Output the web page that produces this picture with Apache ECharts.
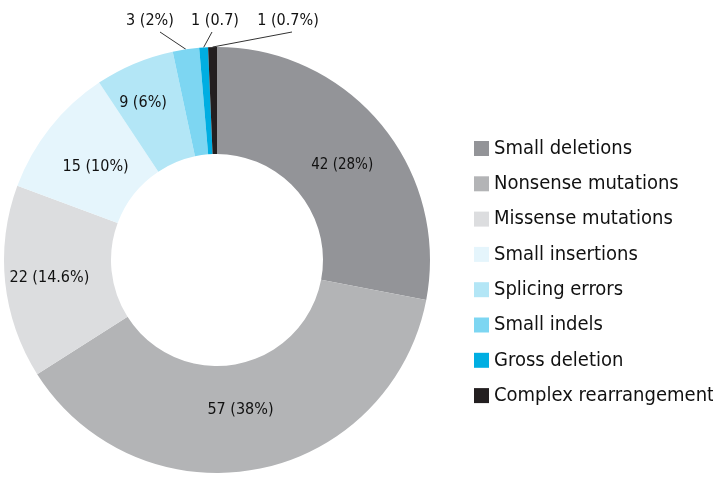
<!DOCTYPE html>
<html lang="en">
<head>
  <meta charset="UTF-8">
  <title>Mutation types</title>
  <script src="https://cdn.jsdelivr.net/npm/echarts@6/dist/echarts.min.js"></script>
  <style>
    html, body { margin: 0; padding: 0; background: #fff; }
    #chart { width: 713px; height: 481px; }
  </style>
</head>
<body>
<div id="chart"></div>
<script>
  // data
  var categories = ['Small deletions', 'Nonsense mutations', 'Missense mutations', 'Small insertions',
    'Splicing errors', 'Small indels', 'Gross deletion', 'Complex rearrangement'];
  var counts = [42, 57, 22, 15, 9, 3, 1, 1];
  var labelTexts = ['42 (28%)', '57 (38%)', '22 (14.6%)', '15 (10%)', '9 (6%)', '3 (2%)', '1 (0.7)', '1 (0.7%)'];
  var colors = ['#939498', '#b3b4b6', '#dcdddf', '#e5f5fc', '#b3e6f6', '#7dd6f2', '#00aee2', '#231f20'];

  var font = "'DejaVu Sans Condensed', 'Liberation Sans Narrow', 'Roboto', sans-serif";

  // small slices at the top get their labels outside, in a row
  var outsideSpots = { 5: [150, 21], 6: [215, 21], 7: [288, 21] };
  // nudges for the inside labels so they sit like the original
  var insideNudge = { 0: [0, 9], 1: [-7, -10], 2: [-6, 1], 3: [6, 8], 4: [-11, -7] };

  var pieData = categories.map(function (name, i) {
    var item = { name: name, value: counts[i], itemStyle: { color: colors[i] } };
    if (outsideSpots[i]) {
      item.label = { position: 'outside' };
    }
    if (i === 0) {
      item.label = { fontSize: 15 };
    }
    return item;
  });

  var chart = echarts.init(document.getElementById('chart'));
  chart.setOption({
    animation: false,
    color: colors,
    legend: {
      orient: 'vertical',
      left: 469,
      top: 133,
      icon: 'rect',
      itemWidth: 15,
      itemHeight: 15,
      itemGap: 14.3,
      data: categories,
      textStyle: { fontFamily: font, fontSize: 20, color: '#111', lineHeight: 21 }
    },
    series: [{
      type: 'pie',
      center: [217, 260],
      radius: [106, 213],
      startAngle: 90,
      clockwise: true,
      avoidLabelOverlap: false,
      label: {
        show: true,
        position: 'inside',
        color: '#111',
        fontFamily: font,
        fontSize: 16,
        formatter: function (p) { return labelTexts[p.dataIndex]; }
      },
      labelLine: { show: true, length: 10, length2: 10, lineStyle: { color: '#333', width: 1 } },
      labelLayout: function (p) {
        var nudge = insideNudge[p.dataIndex];
        if (nudge) return { dx: nudge[0], dy: nudge[1] };
        var spot = outsideSpots[p.dataIndex];
        if (!spot || !p.labelLinePoints) return {};
        var start = p.labelLinePoints[0];
        var endX = spot[0] + (p.dataIndex === 5 ? 10 : (p.dataIndex === 6 ? -3 : 4));
        return {
          x: spot[0],
          y: spot[1],
          align: 'center',
          verticalAlign: 'middle',
          labelLinePoints: [start, [endX, spot[1] + 11], [endX, spot[1] + 11]]
        };
      },
      data: pieData
    }]
  });
</script>
</body>
</html>
